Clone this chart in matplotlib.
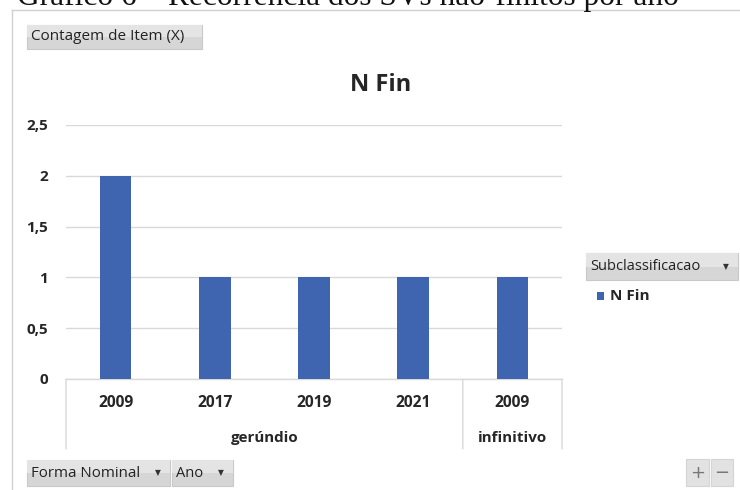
import matplotlib
matplotlib.use("Agg")
import matplotlib.pyplot as plt
from matplotlib.patches import Rectangle
from matplotlib.lines import Line2D

years = ["2009", "2017", "2019", "2021", "2009"]
groups = ["gerúndio", "infinitivo"]
group_sizes = [4, 1]
counts = [2, 1, 1, 1, 1]
series_name = "N Fin"
yticks = [0, 0.5, 1, 1.5, 2, 2.5]
ytick_labels = ["0", "0,5", "1", "1,5", "2", "2,5"]

W, H = 740, 490
fig = plt.figure(figsize=(W / 100, H / 100), dpi=100)
fig.patch.set_facecolor("white")

def px(x, y):
    return x / W, 1 - y / H

FONT = ["Open Sans", "DejaVu Sans"]
BAR = "#4065b0"
GRID = "#d9d9d9"
TXT = "#262626"

# caption partially cut off at the top (as in the reference)
fig.text(17 / W, 1 - 5 / H, "Gráfico 6 – Recorrência dos SVs não-finitos por ano",
         family="Liberation Serif", fontsize=22.6, ha="left", va="baseline", color="#111111")

# chart border
fig.add_artist(Line2D([12 / W, 12 / W], [0, 1 - 10 / H], transform=fig.transFigure, color="#d0d0d0", lw=1))
fig.add_artist(Line2D([12 / W, 1], [1 - 10 / H, 1 - 10 / H], transform=fig.transFigure, color="#d0d0d0", lw=1))

def button(x0, y0, x1, y1, text, fs=10, arrow=False):
    l, t = px(x0, y0)
    r, b = px(x1, y1)
    fig.add_artist(Rectangle((l, b), r - l, t - b, transform=fig.transFigure,
                             facecolor="#d6d6d6", edgecolor="#c8c8c8", lw=0.8))
    fig.add_artist(Rectangle((l, b + (t - b) * 0.5), r - l, (t - b) * 0.5, transform=fig.transFigure,
                             facecolor="#e4e4e4", edgecolor="none"))
    fig.text(l + 4 / W, (t + b) / 2, text, family=FONT, fontsize=fs, ha="left", va="center",
             color="#222222")
    if arrow:
        fig.text(r - 12 / W, (t + b) / 2, "▼", family="DejaVu Sans", fontsize=5.5, ha="center",
                 va="center", color="#333333")

button(27, 25, 202, 49, "Contagem de Item (X)", fs=11)
button(586, 253, 738, 280, "Subclassificacao", fs=10.5, arrow=True)
button(27, 460, 170, 486, "Forma Nominal", fs=10.8, arrow=True)
button(172, 460, 233, 486, "Ano", fs=10.5, arrow=True)
for (a, b_, s) in [(686, 709, "+"), (711, 733, "−")]:
    l, t = px(a, 459)
    r, bb = px(b_, 486)
    fig.add_artist(Rectangle((l, bb), r - l, t - bb, transform=fig.transFigure,
                             facecolor="#e2e2e2", edgecolor="#d4d4d4", lw=0.8))
    fig.text((l + r) / 2, (t + bb) / 2, s, family="DejaVu Sans", fontsize=13, ha="center",
             va="center", color="#777777")

# legend
l, t = px(597, 292)
fig.add_artist(Rectangle((l, t - 8 / H), 7 / W, 8 / H, transform=fig.transFigure,
                         facecolor=BAR, edgecolor="none"))
fig.text(l + 13 / W, t - 4 / H, series_name, family=FONT, fontsize=11, fontweight="bold",
         ha="left", va="center", color=TXT)

# title
fig.text(381 / W, 1 - 85 / H, series_name, family=FONT, fontsize=17, fontweight="bold",
         ha="center", va="center", color=TXT)

# axes
x0, x1 = 66, 562
ytop, ybot = 125, 379
ax = fig.add_axes([x0 / W, 1 - ybot / H, (x1 - x0) / W, (ybot - ytop) / H])
n = len(counts)
xs = list(range(n))
ax.bar(xs, counts, width=0.32, color=BAR, zorder=3)
ax.set_xlim(-0.5, n - 0.5)
ax.set_ylim(0, 2.5)
ax.set_yticks(yticks)
ax.set_yticklabels(ytick_labels, family=FONT, fontsize=11, fontweight="bold", color=TXT)
ax.tick_params(axis="y", length=0, pad=13)
ax.tick_params(axis="x", length=0, labelbottom=False)
ax.grid(axis="y", color=GRID, lw=1, zorder=0)
for s in ["top", "right", "left"]:
    ax.spines[s].set_visible(False)
ax.spines["bottom"].set_color(GRID)
ax.spines["bottom"].set_linewidth(1)

# multi-level category axis
for i, lab in enumerate(years):
    ax.annotate(lab, xy=(i, 0), xycoords=("data", "axes fraction"), xytext=(0, -24 * 0.72),
                textcoords="offset points", ha="center", va="center", family=FONT,
                fontsize=11.2, fontweight="bold", color=TXT, annotation_clip=False)
start = 0
bounds = [-0.5]
for g, sz in zip(groups, group_sizes):
    center = start + (sz - 1) / 2
    ax.annotate(g, xy=(center, 0), xycoords=("data", "axes fraction"), xytext=(0, -59 * 0.72),
                textcoords="offset points", ha="center", va="center", family=FONT,
                fontsize=10.9, fontweight="bold", color=TXT, annotation_clip=False)
    start += sz
    bounds.append(start - 0.5)
for bx in bounds:
    ax.annotate("", xy=(bx, 0), xycoords=("data", "axes fraction"), xytext=(bx, -70 / (ybot - ytop)),
                textcoords=("data", "axes fraction"),
                arrowprops=dict(arrowstyle="-", color=GRID, lw=1, shrinkA=0, shrinkB=0),
                annotation_clip=False)

fig.savefig("out.png", dpi=100)
